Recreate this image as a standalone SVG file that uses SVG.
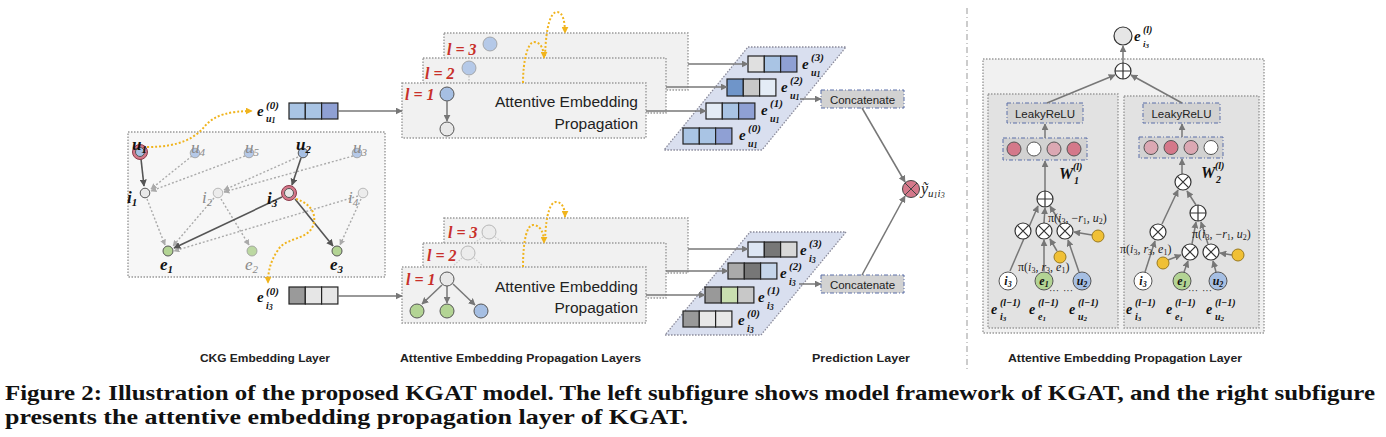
<svg xmlns="http://www.w3.org/2000/svg" width="1386" height="437" viewBox="0 0 1386 437">
<style>
.mb{font-family:"Liberation Serif",serif;font-weight:bold;font-style:italic;fill:#111}
.mg{font-family:"Liberation Serif",serif;font-style:italic;fill:#8a8a8a}
.mi{font-family:"Liberation Serif",serif;font-style:italic;fill:#222}
.mr{font-family:"Liberation Serif",serif;fill:#222}
.sans{font-family:"Liberation Sans",Arial,sans-serif;fill:#222}
.lbl{font-family:"Liberation Sans",Arial,sans-serif;font-weight:bold;font-size:11px;fill:#222}
.cap{font-family:"Liberation Serif",serif;font-weight:bold;font-size:21px;fill:#111}
.red{font-family:"Liberation Serif",serif;font-weight:bold;font-style:italic;font-size:16px;fill:#c8302a}
.box{fill:#f1f1f1;stroke:#9a9a9a;stroke-width:1.4;stroke-dasharray:1.5 1.5}
.ibox{fill:#e2e2e2;stroke:#9a9a9a;stroke-width:1.4;stroke-dasharray:1.5 1.5}
.dd{fill:#d2d2d2;stroke:#5a6fa8;stroke-width:1;stroke-dasharray:4 2 1 2}
.para{fill:#d9dfef;stroke:#8a8a9a;stroke-width:1.3;stroke-dasharray:1.5 1.5}
.sd{stroke:#555;stroke-width:1.6;fill:none}
.sg{stroke:#777;stroke-width:1.5;fill:none}
.ld{stroke:#aaa;stroke-width:1.4;stroke-dasharray:2 2;fill:none}
.yl{stroke:#f0b41e;stroke-width:2;stroke-dasharray:2 2;fill:none}
.cell{stroke:#222;stroke-width:1.2}
.nb{fill:#a6bfe3;stroke:#555;stroke-width:1}
.ng{fill:#e8e8e8;stroke:#555;stroke-width:1}
.ngr{fill:#b3d494;stroke:#555;stroke-width:1}
.nbf{fill:#b5c9e8;stroke:#999;stroke-width:0.8}
.ngf{fill:#ececec;stroke:#aaa;stroke-width:0.8}
.ngrf{fill:#bcd8a2;stroke:#999;stroke-width:0.8}
.ring{fill:#d4788a;stroke:#8b3a4a;stroke-width:1}
.yc{fill:#f0c035;stroke:#9a7a20;stroke-width:1}
.pk{fill:#d4788a;stroke:#555;stroke-width:1}
.pl{fill:#dba8b3;stroke:#555;stroke-width:1}
.wh{fill:#fff;stroke:#555;stroke-width:1}
</style>
<defs>
<marker id="ad" viewBox="0 0 10 10" refX="9" refY="5" markerWidth="7" markerHeight="7" markerUnits="userSpaceOnUse" orient="auto"><path d="M0,0L10,5L0,10z" fill="#555"/></marker>
<marker id="ag" viewBox="0 0 10 10" refX="9" refY="5" markerWidth="7" markerHeight="7" markerUnits="userSpaceOnUse" orient="auto"><path d="M0,0L10,5L0,10z" fill="#777"/></marker>
<marker id="al" viewBox="0 0 10 10" refX="9" refY="5" markerWidth="6" markerHeight="6" markerUnits="userSpaceOnUse" orient="auto"><path d="M0,0L10,5L0,10z" fill="#aaa"/></marker>
<marker id="ay" viewBox="0 0 10 10" refX="9" refY="5" markerWidth="7" markerHeight="7" markerUnits="userSpaceOnUse" orient="auto"><path d="M0,0L10,5L0,10z" fill="#f0b41e"/></marker>
<g id="ot"><circle r="8" fill="#fff" stroke="#333" stroke-width="1.2"/><path d="M-5.6,-5.6L5.6,5.6M-5.6,5.6L5.6,-5.6" stroke="#333" stroke-width="1.2"/></g>
<g id="op"><circle r="8" fill="#fff" stroke="#333" stroke-width="1.2"/><path d="M-8,0H8M0,-8V8" stroke="#333" stroke-width="1.2"/></g>
</defs>
<rect width="1386" height="437" fill="#fff"/>

<!-- CKG embedding layer -->
<g id="ckg">
<rect x="128" y="132" width="257" height="145" fill="#f7f7f7" stroke="#999" stroke-width="1.4" stroke-dasharray="1.5 1.5"/>
<g id="ckg-edges">
<line class="ld" x1="192" y1="156" x2="151" y2="189" marker-end="url(#al)"/>
<line class="ld" x1="245" y1="156" x2="151" y2="191" marker-end="url(#al)"/>
<line class="ld" x1="298" y1="157" x2="224" y2="190" marker-end="url(#al)"/>
<line class="ld" x1="353" y1="156" x2="224" y2="192" marker-end="url(#al)"/>
<line class="ld" x1="147" y1="199" x2="165" y2="245" marker-end="url(#al)"/>
<line class="ld" x1="214" y1="198" x2="173" y2="246" marker-end="url(#al)"/>
<line class="ld" x1="221" y1="199" x2="249" y2="245" marker-end="url(#al)"/>
<line class="ld" x1="358" y1="196" x2="174" y2="251" marker-end="url(#al)"/>
<line class="ld" x1="361" y1="199" x2="340" y2="245" marker-end="url(#al)"/>
<line class="sd" x1="141" y1="159" x2="144" y2="186" marker-end="url(#ad)"/>
<line class="sd" x1="301" y1="158" x2="292" y2="185" marker-end="url(#ad)"/>
<line class="sd" x1="282" y1="197" x2="174" y2="248" marker-end="url(#ad)"/>
<line class="sd" x1="295" y1="199" x2="333" y2="246" marker-end="url(#ad)"/>
</g>
<g id="ckg-nodes">
<circle class="ring" cx="140" cy="152" r="7.5"/><circle class="nb" cx="140" cy="152" r="4.5"/>
<circle class="nbf" cx="195" cy="153" r="4.8"/>
<circle class="nbf" cx="249" cy="153" r="4.8"/>
<circle class="nb" cx="303" cy="153" r="4.8"/>
<circle class="nbf" cx="357" cy="153" r="4.8"/>
<circle class="ng" cx="145" cy="193" r="4.8"/>
<circle class="ngf" cx="218" cy="193" r="4.8"/>
<circle class="ring" cx="289" cy="193" r="7.5"/><circle class="ng" cx="289" cy="193" r="4.5"/>
<circle class="ngf" cx="363" cy="193" r="4.8"/>
<circle class="ngr" cx="168" cy="251" r="5"/>
<circle class="ngrf" cx="252" cy="251" r="5"/>
<circle class="ngr" cx="337" cy="251" r="5"/>
</g>
<g id="ckg-labels">
<text class="mb" x="132" y="150" font-size="17">u<tspan font-size="11" dy="3">1</tspan></text>
<text class="mg" x="191" y="153" font-size="17">u<tspan font-size="11" dy="3">4</tspan></text>
<text class="mg" x="245" y="153" font-size="17">u<tspan font-size="11" dy="3">5</tspan></text>
<text class="mb" x="296" y="150" font-size="17">u<tspan font-size="11" dy="3">2</tspan></text>
<text class="mg" x="353" y="153" font-size="17">u<tspan font-size="11" dy="3">3</tspan></text>
<text class="mb" x="127" y="203" font-size="17">i<tspan font-size="11" dy="3">1</tspan></text>
<text class="mg" x="202" y="203" font-size="17">i<tspan font-size="11" dy="3">2</tspan></text>
<text class="mb" x="267" y="204" font-size="17">i<tspan font-size="11" dy="3">3</tspan></text>
<text class="mg" x="348" y="203" font-size="17">i<tspan font-size="11" dy="3">4</tspan></text>
<text class="mb" x="160" y="270" font-size="17">e<tspan font-size="11" dy="3">1</tspan></text>
<text class="mg" x="245" y="270" font-size="17">e<tspan font-size="11" dy="3">2</tspan></text>
<text class="mb" x="330" y="270" font-size="17">e<tspan font-size="11" dy="3">3</tspan></text>
</g>
</g>

<!-- input embeddings -->
<g id="emb-u1-0">
<text class="mb" x="257" y="116" font-size="15">e</text>
<text class="mb" x="266" y="109" font-size="11">(0)</text>
<text class="mb" x="266" y="122" font-size="10">u<tspan font-size="8" dy="1">1</tspan></text>
<rect class="cell" x="289" y="103" width="16.3" height="16" fill="#a9c4e4"/>
<rect class="cell" x="305.3" y="103" width="16.3" height="16" fill="#a9c4e4"/>
<rect class="cell" x="321.6" y="103" width="16.3" height="16" fill="#8fa0d4"/>
</g>
<g id="emb-i3-0">
<text class="mb" x="257" y="302" font-size="15">e</text>
<text class="mb" x="266" y="295" font-size="11">(0)</text>
<text class="mb" x="266" y="309" font-size="10">i<tspan font-size="8" dy="1">3</tspan></text>
<rect class="cell" x="289" y="287" width="16.3" height="17" fill="#9a9a9a"/>
<rect class="cell" x="305.3" y="287" width="16.3" height="17" fill="#e6e6e6"/>
<rect class="cell" x="321.6" y="287" width="16.3" height="17" fill="#e6e6e6"/>
</g>

<!-- top propagation layers -->
<g id="prop-top">
<rect class="box" x="444" y="33" width="244" height="57"/>
<text class="red" x="447" y="55">l = 3</text>
<circle class="nbf" cx="490" cy="44" r="7"/>
<rect class="box" x="423" y="58" width="243" height="55"/>
<text class="red" x="425" y="79">l = 2</text>
<circle class="nbf" cx="469" cy="68" r="7"/>
<line x1="469" y1="76" x2="469" y2="83" stroke="#bbb" stroke-width="1.2" stroke-dasharray="1.5 1.5"/>
<rect class="box" x="402" y="83" width="244" height="55"/>
<text class="red" x="405" y="100">l = 1</text>
<circle class="nb" cx="447" cy="94" r="7"/>
<line class="sg" x1="447" y1="101" x2="447" y2="121" marker-end="url(#ag)"/>
<circle class="ng" cx="447" cy="129" r="7"/>
<text class="sans" x="638" y="107" font-size="15.5" text-anchor="end">Attentive Embedding</text>
<text class="sans" x="638" y="129" font-size="15.5" text-anchor="end">Propagation</text>
</g>

<!-- bottom propagation layers -->
<g id="prop-bottom">
<rect class="box" x="444" y="218" width="244" height="55"/>
<text class="red" x="448" y="238">l = 3</text>
<circle class="ngf" cx="489" cy="232" r="7"/>
<path d="M483,237 L474,243 M495,237 L504,243" stroke="#ccc" stroke-width="1.2" stroke-dasharray="1.5 1.5" fill="none"/>
<rect class="box" x="423" y="243" width="243" height="55"/>
<text class="red" x="427" y="261">l = 2</text>
<circle class="ngf" cx="468" cy="253" r="7"/>
<path d="M462,258 L453,266 M474,258 L483,266" stroke="#ccc" stroke-width="1.2" stroke-dasharray="1.5 1.5" fill="none"/>
<rect class="box" x="402" y="267" width="244" height="56"/>
<text class="red" x="406" y="285">l = 1</text>
<line class="sg" x1="442" y1="285" x2="422" y2="304" marker-end="url(#ag)"/>
<line class="sg" x1="447" y1="286" x2="447" y2="303" marker-end="url(#ag)"/>
<line class="sg" x1="453" y1="284" x2="475" y2="305" marker-end="url(#ag)"/>
<circle class="ng" cx="447" cy="279" r="7"/>
<circle class="ngr" cx="417" cy="311" r="7"/>
<circle class="ngr" cx="447" cy="311" r="7"/>
<circle class="nb" cx="481" cy="311" r="7"/>
<text class="sans" x="638" y="292" font-size="15.5" text-anchor="end">Attentive Embedding</text>
<text class="sans" x="638" y="313" font-size="15.5" text-anchor="end">Propagation</text>
</g>

<!-- stacked embeddings top -->
<g id="stack-u1">
<polygon class="para" points="748,47 846,47 762,150 664,150"/>
<rect class="cell" x="748" y="56" width="16.3" height="16" fill="#e0e0e0"/>
<rect class="cell" x="764.3" y="56" width="16.3" height="16" fill="#a9c4e4"/>
<rect class="cell" x="780.6" y="56" width="16.3" height="16" fill="#8fa0d4"/>
<rect class="cell" x="727" y="79" width="16.3" height="17" fill="#6f95c9"/>
<rect class="cell" x="743.3" y="79" width="16.3" height="17" fill="#c8c8c8"/>
<rect class="cell" x="759.6" y="79" width="16.3" height="17" fill="#e4ecf6"/>
<rect class="cell" x="706" y="103" width="16.3" height="16" fill="#e4ecf6"/>
<rect class="cell" x="722.3" y="103" width="16.3" height="16" fill="#a9c4e4"/>
<rect class="cell" x="738.6" y="103" width="16.3" height="16" fill="#8fa0d4"/>
<rect class="cell" x="683" y="128" width="16.3" height="16" fill="#a9c4e4"/>
<rect class="cell" x="699.3" y="128" width="16.3" height="16" fill="#a9c4e4"/>
<rect class="cell" x="715.6" y="128" width="16.3" height="16" fill="#8fa0d4"/>
<text class="mb" x="802" y="69" font-size="15">e</text><text class="mb" x="811" y="61" font-size="11">(3)</text><text class="mb" x="811" y="76" font-size="10">u<tspan font-size="8" dy="1">1</tspan></text>
<text class="mb" x="781" y="92" font-size="15">e</text><text class="mb" x="790" y="84" font-size="11">(2)</text><text class="mb" x="790" y="99" font-size="10">u<tspan font-size="8" dy="1">1</tspan></text>
<text class="mb" x="761" y="115" font-size="15">e</text><text class="mb" x="770" y="107" font-size="11">(1)</text><text class="mb" x="770" y="122" font-size="10">u<tspan font-size="8" dy="1">1</tspan></text>
<text class="mb" x="739" y="140" font-size="15">e</text><text class="mb" x="748" y="132" font-size="11">(0)</text><text class="mb" x="748" y="147" font-size="10">u<tspan font-size="8" dy="1">1</tspan></text>
</g>

<!-- stacked embeddings bottom -->
<g id="stack-i3">
<polygon class="para" points="750,232 846,232 761,335 665,335"/>
<rect class="cell" x="748" y="242" width="16.3" height="15" fill="#dde6f4"/>
<rect class="cell" x="764.3" y="242" width="16.3" height="15" fill="#777"/>
<rect class="cell" x="780.6" y="242" width="16.3" height="15" fill="#d8d8d8"/>
<rect class="cell" x="728" y="263" width="16.3" height="16" fill="#aaa"/>
<rect class="cell" x="744.3" y="263" width="16.3" height="16" fill="#777"/>
<rect class="cell" x="760.6" y="263" width="16.3" height="16" fill="#c5d5ea"/>
<rect class="cell" x="705" y="287" width="16.3" height="16" fill="#999"/>
<rect class="cell" x="721.3" y="287" width="16.3" height="16" fill="#c9dfb0"/>
<rect class="cell" x="737.6" y="287" width="16.3" height="16" fill="#c8c8c8"/>
<rect class="cell" x="683" y="311" width="16.3" height="16" fill="#999"/>
<rect class="cell" x="699.3" y="311" width="16.3" height="16" fill="#e8e8e8"/>
<rect class="cell" x="715.6" y="311" width="16.3" height="16" fill="#e8e8e8"/>
<text class="mb" x="800" y="255" font-size="15">e</text><text class="mb" x="809" y="247" font-size="11">(3)</text><text class="mb" x="809" y="262" font-size="10">i<tspan font-size="8" dy="1">3</tspan></text>
<text class="mb" x="780" y="278" font-size="15">e</text><text class="mb" x="789" y="270" font-size="11">(2)</text><text class="mb" x="789" y="285" font-size="10">i<tspan font-size="8" dy="1">3</tspan></text>
<text class="mb" x="758" y="302" font-size="15">e</text><text class="mb" x="767" y="294" font-size="11">(1)</text><text class="mb" x="767" y="309" font-size="10">i<tspan font-size="8" dy="1">3</tspan></text>
<text class="mb" x="738" y="325" font-size="15">e</text><text class="mb" x="747" y="317" font-size="11">(0)</text><text class="mb" x="747" y="332" font-size="10">i<tspan font-size="8" dy="1">3</tspan></text>
</g>

<!-- prediction layer -->
<g id="concat-top">
<rect class="dd" x="821" y="90" width="83" height="18"/>
<text class="sans" x="862.5" y="104" font-size="11.5" text-anchor="middle">Concatenate</text>
</g>
<g id="concat-bottom">
<rect class="dd" x="821" y="275" width="83" height="18"/>
<text class="sans" x="862.5" y="289" font-size="11.5" text-anchor="middle">Concatenate</text>
</g>
<g id="predict">
<circle cx="911" cy="189" r="8.5" fill="#d4788a" stroke="#444" stroke-width="1"/>
<path d="M905,183L917,195M905,195L917,183" stroke="#444" stroke-width="1"/>
<text class="mi" x="921" y="194" font-size="16">ỹ<tspan font-size="11" dy="3">u</tspan><tspan font-size="8" dy="1">1</tspan><tspan font-size="11" dy="-1">i</tspan><tspan font-size="8" dy="1">3</tspan></text>
</g>

<!-- connectors (left) -->
<g id="connectors">
<path class="yl" d="M147,147 C180,147 195,138 205,126 C214,115 230,111 252,111" marker-end="url(#ay)"/>
<path class="yl" d="M296,199 C312,204 318,216 312,228 C305,240 285,238 278,250 C270,262 268,272 268,283" marker-end="url(#ay)"/>
<line class="sg" x1="338" y1="111" x2="402" y2="111" marker-end="url(#ag)"/>
<line class="sg" x1="338" y1="296" x2="402" y2="296" marker-end="url(#ag)"/>
<path class="yl" d="M523,83 C523,60 528,42 534,42 C541,42 544,50 544,58" marker-end="url(#ay)"/>
<path class="yl" d="M545,56 C546,25 551,12 557,12 C563,12 565,22 565,33" marker-end="url(#ay)"/>
<path class="yl" d="M523,267 C523,240 527,225 533,225 C540,225 544,232 544,243" marker-end="url(#ay)"/>
<path class="yl" d="M545,240 C546,212 551,202 556,202 C562,202 565,208 565,217" marker-end="url(#ay)"/>
<line class="sg" x1="688" y1="64" x2="748" y2="64" marker-end="url(#ag)"/>
<line class="sg" x1="666" y1="87" x2="727" y2="87" marker-end="url(#ag)"/>
<line class="sg" x1="646" y1="111" x2="706" y2="111" marker-end="url(#ag)"/>
<line class="sg" x1="688" y1="249" x2="748" y2="249" marker-end="url(#ag)"/>
<line class="sg" x1="666" y1="271" x2="728" y2="271" marker-end="url(#ag)"/>
<line class="sg" x1="646" y1="295" x2="705" y2="295" marker-end="url(#ag)"/>
<line class="sg" x1="800" y1="99" x2="821" y2="99" marker-end="url(#ag)"/>
<line class="sg" x1="799" y1="284" x2="821" y2="284" marker-end="url(#ag)"/>
<line class="sg" x1="862" y1="108" x2="905" y2="182" marker-end="url(#ag)"/>
<line class="sg" x1="862" y1="275" x2="905" y2="196" marker-end="url(#ag)"/>
</g>

<!-- separator -->
<line x1="967" y1="8" x2="967" y2="372" stroke="#999" stroke-width="1" stroke-dasharray="6 3 1 3"/>

<!-- right subfigure -->
<g id="aep-layer">
<rect class="box" x="983" y="59" width="281" height="274"/>
<g id="aep-left">
<rect class="ibox" x="988" y="94" width="130" height="234"/>
<rect class="dd" x="1007" y="103" width="76" height="20"/>
<text class="sans" x="1045" y="117.5" font-size="11.5" text-anchor="middle">LeakyReLU</text>
<rect class="dd" x="1003" y="138" width="84" height="22"/>
<circle class="pk" cx="1014" cy="149" r="7"/>
<circle class="wh" cx="1034" cy="149" r="7"/>
<circle class="pl" cx="1054" cy="149" r="7"/>
<circle class="pk" cx="1074" cy="149" r="7"/>
<text class="mb" x="1059" y="179" font-size="16">W</text><text class="mb" x="1073" y="170" font-size="10">(l)</text><text class="mb" x="1074" y="184" font-size="10">1</text>
<line class="sg" x1="1045" y1="138" x2="1045" y2="124" marker-end="url(#ag)"/>
<line class="sg" x1="1045" y1="191" x2="1045" y2="161" marker-end="url(#ag)"/>
<line class="sg" x1="1010" y1="271" x2="1038" y2="206" marker-end="url(#ag)"/>
<line class="sg" x1="1044" y1="223" x2="1045" y2="208" marker-end="url(#ag)"/>
<line class="sg" x1="1061" y1="224" x2="1050" y2="206" marker-end="url(#ag)"/>
<line class="sg" x1="1044" y1="271" x2="1044" y2="240" marker-end="url(#ag)"/>
<line class="sg" x1="1079" y1="272" x2="1068" y2="240" marker-end="url(#ag)"/>
<line class="sg" x1="1057" y1="251" x2="1050" y2="239" marker-end="url(#ag)"/>
<line class="sg" x1="1092" y1="235" x2="1074" y2="232" marker-end="url(#ag)"/>
<use href="#op" x="1045" y="199"/>
<use href="#ot" x="1023" y="231"/>
<use href="#ot" x="1044" y="231"/>
<use href="#ot" x="1065" y="231"/>
<circle class="yc" cx="1060" cy="257" r="6"/>
<circle class="yc" cx="1098" cy="236" r="6"/>
<text class="mr" x="1048" y="222" font-size="12">π(<tspan font-style="italic">i</tspan><tspan font-size="8" dy="2">3</tspan><tspan dy="-2">, −</tspan><tspan font-style="italic">r</tspan><tspan font-size="8" dy="2">1</tspan><tspan dy="-2">, </tspan><tspan font-style="italic">u</tspan><tspan font-size="8" dy="2">2</tspan><tspan dy="-2">)</tspan></text>
<text class="mr" x="1018" y="271" font-size="12">π(<tspan font-style="italic">i</tspan><tspan font-size="8" dy="2">3</tspan><tspan dy="-2">, </tspan><tspan font-style="italic">r</tspan><tspan font-size="8" dy="2">3</tspan><tspan dy="-2">, </tspan><tspan font-style="italic">e</tspan><tspan font-size="8" dy="2">1</tspan><tspan dy="-2">)</tspan></text>
<circle class="wh" cx="1008" cy="281" r="9"/>
<circle class="ngr" cx="1044" cy="281" r="9"/>
<circle class="nb" cx="1082" cy="281" r="9"/>
<text class="mb" x="1008" y="285" font-size="12" text-anchor="middle">i<tspan font-size="8" dy="2">3</tspan></text>
<text class="mb" x="1044" y="285" font-size="12" text-anchor="middle">e<tspan font-size="8" dy="2">1</tspan></text>
<text class="mb" x="1082" y="285" font-size="12" text-anchor="middle">u<tspan font-size="8" dy="2">2</tspan></text>
<text class="mr" x="1054" y="294" font-size="10" text-anchor="middle">···</text>
<text class="mr" x="1068" y="294" font-size="10" text-anchor="middle">···</text>
<text class="mb" x="991" y="314" font-size="14">e</text><text class="mb" x="1000" y="306" font-size="10">(l−1)</text><text class="mb" x="1000" y="320" font-size="10">i<tspan font-size="7" dy="1">3</tspan></text>
<text class="mb" x="1029" y="314" font-size="14">e</text><text class="mb" x="1038" y="306" font-size="10">(l−1)</text><text class="mb" x="1038" y="320" font-size="10">e<tspan font-size="7" dy="1">1</tspan></text>
<text class="mb" x="1069" y="314" font-size="14">e</text><text class="mb" x="1078" y="306" font-size="10">(l−1)</text><text class="mb" x="1078" y="320" font-size="10">u<tspan font-size="7" dy="1">2</tspan></text>
</g>
<g id="aep-right">
<rect class="ibox" x="1124" y="96" width="135" height="232"/>
<rect class="dd" x="1143" y="103" width="77" height="20"/>
<text class="sans" x="1181.5" y="117.5" font-size="11.5" text-anchor="middle">LeakyReLU</text>
<rect class="dd" x="1139" y="137" width="84" height="21"/>
<circle class="pl" cx="1151" cy="147.5" r="7"/>
<circle class="pk" cx="1171" cy="147.5" r="7"/>
<circle class="pl" cx="1191" cy="147.5" r="7"/>
<circle class="wh" cx="1211" cy="147.5" r="7"/>
<text class="mb" x="1201" y="178" font-size="16">W</text><text class="mb" x="1215" y="169" font-size="10">(l)</text><text class="mb" x="1216" y="183" font-size="10">2</text>
<line class="sg" x1="1182" y1="137" x2="1182" y2="124" marker-end="url(#ag)"/>
<line class="sg" x1="1182" y1="174" x2="1182" y2="159" marker-end="url(#ag)"/>
<line class="sg" x1="1145" y1="272" x2="1155" y2="241" marker-end="url(#ag)"/>
<line class="sg" x1="1162" y1="224" x2="1178" y2="190" marker-end="url(#ag)"/>
<line class="sg" x1="1196" y1="205" x2="1187" y2="191" marker-end="url(#ag)"/>
<line class="sg" x1="1192" y1="244" x2="1196" y2="222" marker-end="url(#ag)"/>
<line class="sg" x1="1208" y1="244" x2="1201" y2="222" marker-end="url(#ag)"/>
<line class="sg" x1="1184" y1="272" x2="1188" y2="261" marker-end="url(#ag)"/>
<line class="sg" x1="1216" y1="272" x2="1213" y2="261" marker-end="url(#ag)"/>
<line class="sg" x1="1168" y1="260" x2="1181" y2="255" marker-end="url(#ag)"/>
<line class="sg" x1="1232" y1="255" x2="1220" y2="253" marker-end="url(#ag)"/>
<use href="#ot" x="1183" y="182"/>
<use href="#op" x="1198" y="213"/>
<use href="#ot" x="1158" y="232"/>
<use href="#ot" x="1190" y="252"/>
<use href="#ot" x="1211" y="252"/>
<circle class="yc" cx="1163" cy="263" r="6"/>
<circle class="yc" cx="1238" cy="255" r="6"/>
<text class="mr" x="1192" y="238" font-size="12">π(<tspan font-style="italic">i</tspan><tspan font-size="8" dy="2">3</tspan><tspan dy="-2">, −</tspan><tspan font-style="italic">r</tspan><tspan font-size="8" dy="2">1</tspan><tspan dy="-2">, </tspan><tspan font-style="italic">u</tspan><tspan font-size="8" dy="2">2</tspan><tspan dy="-2">)</tspan></text>
<text class="mr" x="1120" y="253" font-size="12">π(<tspan font-style="italic">i</tspan><tspan font-size="8" dy="2">3</tspan><tspan dy="-2">, </tspan><tspan font-style="italic">r</tspan><tspan font-size="8" dy="2">3</tspan><tspan dy="-2">, </tspan><tspan font-style="italic">e</tspan><tspan font-size="8" dy="2">1</tspan><tspan dy="-2">)</tspan></text>
<circle class="wh" cx="1143" cy="281" r="9"/>
<circle class="ngr" cx="1182" cy="281" r="9"/>
<circle class="nb" cx="1218" cy="281" r="9"/>
<text class="mb" x="1143" y="285" font-size="12" text-anchor="middle">i<tspan font-size="8" dy="2">3</tspan></text>
<text class="mb" x="1182" y="285" font-size="12" text-anchor="middle">e<tspan font-size="8" dy="2">1</tspan></text>
<text class="mb" x="1218" y="285" font-size="12" text-anchor="middle">u<tspan font-size="8" dy="2">2</tspan></text>
<text class="mr" x="1193" y="294" font-size="10" text-anchor="middle">···</text>
<text class="mr" x="1207" y="294" font-size="10" text-anchor="middle">···</text>
<text class="mb" x="1126" y="314" font-size="14">e</text><text class="mb" x="1135" y="306" font-size="10">(l−1)</text><text class="mb" x="1135" y="320" font-size="10">i<tspan font-size="7" dy="1">3</tspan></text>
<text class="mb" x="1166" y="314" font-size="14">e</text><text class="mb" x="1175" y="306" font-size="10">(l−1)</text><text class="mb" x="1175" y="320" font-size="10">e<tspan font-size="7" dy="1">1</tspan></text>
<text class="mb" x="1206" y="314" font-size="14">e</text><text class="mb" x="1215" y="306" font-size="10">(l−1)</text><text class="mb" x="1215" y="320" font-size="10">u<tspan font-size="7" dy="1">2</tspan></text>
</g>
<g id="aep-top">
<line class="sg" x1="1047" y1="103" x2="1115" y2="75" marker-end="url(#ag)"/>
<line class="sg" x1="1182" y1="103" x2="1131" y2="75" marker-end="url(#ag)"/>
<line class="sg" x1="1123" y1="63" x2="1123" y2="46" marker-end="url(#ag)"/>
<use href="#op" x="1123" y="71"/>
<circle cx="1123" cy="36" r="9" fill="#e6e6e6" stroke="#333" stroke-width="1.2"/>
<text class="mb" x="1134" y="41" font-size="15">e</text><text class="mb" x="1143" y="33" font-size="10">(l)</text><text class="mb" x="1143" y="47" font-size="9">i<tspan font-size="7" dy="1">3</tspan></text>
</g>
</g>

<!-- section labels -->
<g id="section-labels">
<text class="lbl" x="200" y="362" textLength="130" lengthAdjust="spacingAndGlyphs">CKG Embedding Layer</text>
<text class="lbl" x="400" y="362" textLength="241" lengthAdjust="spacingAndGlyphs">Attentive Embedding Propagation Layers</text>
<text class="lbl" x="812" y="362" textLength="98" lengthAdjust="spacingAndGlyphs">Prediction Layer</text>
<text class="lbl" x="1008" y="362" textLength="234" lengthAdjust="spacingAndGlyphs">Attentive Embedding Propagation Layer</text>
</g>

<!-- caption -->
<g id="caption">
<text class="cap" x="5" y="400" textLength="1370" lengthAdjust="spacingAndGlyphs">Figure 2: Illustration of the proposed KGAT model. The left subfigure shows model framework of KGAT, and the right subfigure</text>
<text class="cap" x="5" y="424" textLength="683" lengthAdjust="spacingAndGlyphs">presents the attentive embedding propagation layer of KGAT.</text>
</g>
</svg>
